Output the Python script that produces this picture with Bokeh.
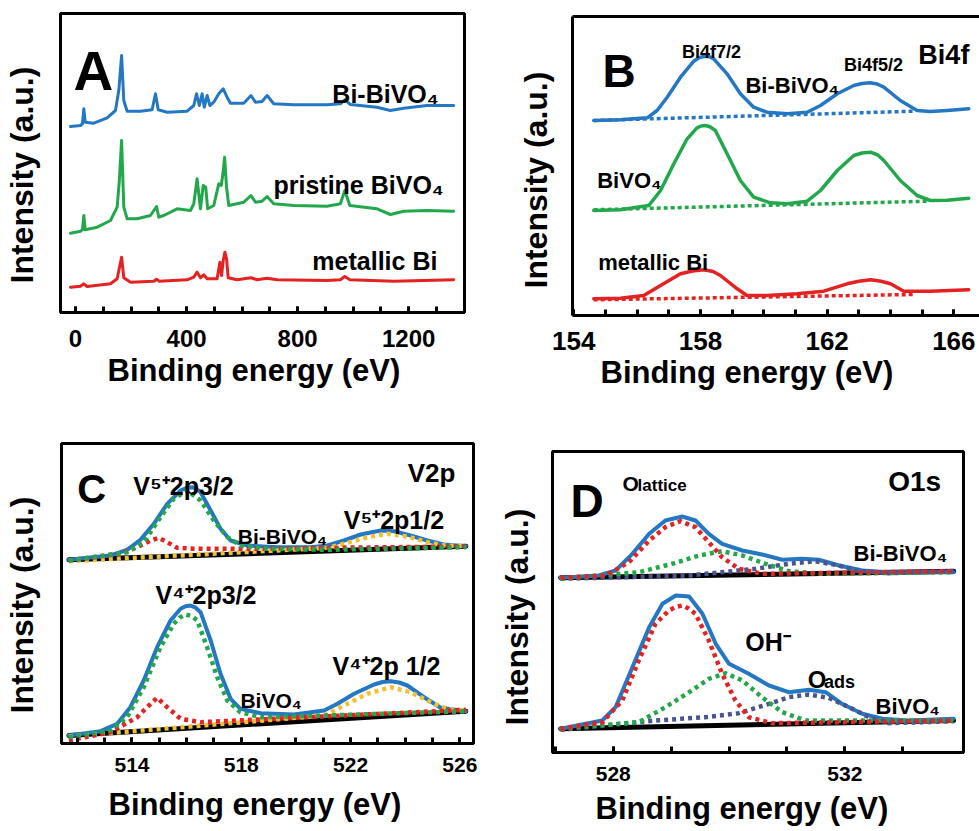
from bokeh.plotting import figure
from bokeh.models import Range1d, FixedTicker, Label, LinearAxis, Title
from bokeh.layouts import column, row
from bokeh.embed import file_html
from bokeh.resources import INLINE

FONT = "Liberation Sans"

# ---------------- Panel A: survey spectra (binding energy eV, intensity a.u.) ----------------
a_x_bi_bivo4 = [-18, 18, 25, 30, 35, 66, 114, 144, 156, 166, 174, 186, 234, 276, 288, 298, 330, 402, 426, 436,
                446, 456, 464, 474, 484, 498, 516, 532, 546, 558, 606, 632, 648, 672, 690, 714, 786, 906, 954, 970,
                990, 1086, 1134, 1182, 1266, 1362]
a_y_bi_bivo4 = [186, 187, 188.7, 203.7, 190.3, 189.3, 194.7, 202, 222, 257, 212, 201.3, 201.3, 202.7, 218.7, 202.7,
                200.3, 201.3, 207, 218.7, 207, 218.7, 205.3, 217, 207, 210.3, 218.7, 223.7, 215.3, 209.3, 209.3, 217,
                210.3, 211, 217, 208.7, 207.7, 207.7, 208.7, 212.7, 208, 205.3, 202, 204.3, 207, 207]

a_x_bivo4 = [-18, 18, 25, 30, 35, 78, 126, 150, 158, 166, 174, 186, 222, 270, 292, 300, 318, 366, 414, 426,
             438, 450, 460, 469, 476, 498, 516, 525, 531, 537, 544, 552, 606, 632, 648, 672, 690, 714, 786, 906,
             954, 970, 988, 1086, 1134, 1182, 1266, 1362]
a_y_bivo4 = [79.3, 81.3, 82.7, 97, 82.7, 85.3, 92, 105.3, 132, 172, 105.3, 93.7, 93.7, 97, 106, 95.3, 97, 103.7,
             102, 108.7, 133.7, 103.7, 127, 125.3, 103.7, 107, 128.7, 127, 138.7, 155.3, 125.3, 107, 110.3, 117,
             110.3, 111.3, 116, 108.7, 107, 106.3, 108.7, 122, 107, 103.7, 98, 101.3, 102, 101.3]

a_x_bi = [-18, 18, 30, 42, 126, 150, 166, 174, 198, 282, 292, 301, 402, 426, 438, 450, 462, 474, 510, 520,
          526, 532, 538, 544, 550, 582, 632, 654, 690, 726, 906, 954, 970, 988, 1146, 1362]
a_y_bi = [25.3, 26.3, 28.7, 26, 28.7, 33.7, 55.3, 34.7, 30.3, 31.3, 33.3, 31.3, 32.7, 35.3, 40.3, 34.7, 37.7,
          33.7, 33.7, 50.3, 37, 52, 60.3, 53.7, 34.7, 32.7, 34.7, 32.7, 34.3, 32.7, 32, 32.7, 36, 32.7, 31.3, 32.7]

a_ticks = [0, 400, 800, 1200]
a_minor = [100 * i for i in range(14)]

# ---------------- Panel B: Bi4f ----------------
b_x_blue = [154.63, 155.47, 156.32, 156.63, 156.95, 157.37, 157.79, 157.95, 158.13, 158.28, 158.42, 158.84, 159.26,
            159.68, 160.1, 160.74, 161.37, 161.79, 162.32, 162.84, 163.1, 163.35, 163.58, 163.79, 164.31, 164.84,
            165.26, 165.79, 166.47]
b_y_blue = [195, 195.7, 197.7, 205, 218.3, 238.3, 254.3, 257.8, 259.3, 258.8, 256.7, 241.7, 221.7, 208.3, 203.3,
            201.7, 203.3, 210, 221.7, 230, 232, 232.7, 231.5, 228.3, 215, 205, 204, 205, 206.7]
b_base_x_blue = [154.63, 164.74]
b_base_y_blue = [195, 204.3]

b_x_green = [154.63, 155.47, 156.37, 156.74, 157.16, 157.58, 157.89, 158.02, 158.16, 158.3, 158.47, 158.84, 159.26,
             159.68, 160.21, 160.74, 161.37, 161.79, 162.32, 162.84, 163.1, 163.37, 163.6, 163.79, 164.31, 164.84,
             165.26, 165.79, 166.47]
b_y_green = [105, 105.7, 110, 125, 151.7, 176.7, 187.7, 189.5, 190, 188.7, 185, 161.7, 135, 118.3, 112.7, 111.7,
             114.3, 125, 145, 160, 162.5, 163.3, 160.5, 155, 135, 120, 115, 115.3, 117.3]
b_base_x_green = [154.63, 165.16]
b_base_y_green = [105.7, 114.3]

b_x_red = [154.63, 155.47, 156.21, 156.74, 157.37, 157.75, 158.1, 158.4, 158.63, 159.16, 159.47, 160.1, 161.05,
           161.89, 162.63, 163.0, 163.37, 163.7, 164.0, 164.42, 165.26, 166.47]
b_y_red = [16.7, 17.3, 20, 30, 41.7, 44.5, 45.7, 44, 40, 26.7, 20, 20, 21.7, 24.3, 31.7, 34.3, 35.7, 34.3, 31.7,
           24.3, 24.3, 25.7]
b_base_x_red = [154.63, 164.74]
b_base_y_red = [15.7, 21]

b_ticks = [154, 158, 162, 166]
b_minor = list(range(154, 167))

# ---------------- Panel C: V2p ----------------
c_top_base_x = [511.69, 526.22]
c_top_base_y = [183.7, 197.3]
c_top_blue_x = [511.69, 513.21, 513.82, 514.31, 514.80, 515.29, 515.78, 516.0, 516.2, 516.36, 516.51, 516.88, 517.24,
                517.61, 518.22, 519.32, 520.54, 521.15, 521.76, 522.37, 523.1, 523.59, 524.2, 524.81, 525.42, 526.22]
c_top_blue_y = [183.7, 188, 193.7, 203.7, 219.7, 239.7, 253, 255.7, 256.3, 254.5, 251.3, 233, 214.7, 203, 198,
                196.3, 196.3, 198, 203, 209, 213, 212.3, 208, 203, 199, 197.3]
c_top_green_x = [511.69, 513.82, 514.43, 515.04, 515.53, 516.02, 516.51, 517.0, 517.49, 517.97, 518.95, 521.15,
                 526.22]
c_top_green_y = [183, 191.3, 201.3, 226.3, 244.7, 253, 243, 223, 206.3, 198, 194.7, 193.7, 196.3]
c_top_red_x = [511.69, 513.58, 514.19, 514.68, 514.98, 515.29, 515.65, 516.27, 518.71, 521.15, 526.22]
c_top_red_y = [183, 189.7, 196.3, 203, 205.7, 201.3, 195.7, 194.7, 194.7, 195.7, 197]
c_top_yellow_x = [511.69, 521.15, 521.76, 522.61, 523.35, 524.08, 524.81, 525.42, 526.22]
c_top_yellow_y = [182.3, 195.7, 199.7, 206.3, 209.7, 207, 201.3, 198, 197.3]

c_bot_base_x = [511.69, 526.22]
c_bot_base_y = [8, 32.3]
c_bot_blue_x = [511.69, 512.85, 513.46, 513.94, 514.43, 514.92, 515.41, 515.78, 515.96, 516.14, 516.33, 516.51,
                516.88, 517.24, 517.61, 517.97, 518.71, 519.93, 521.03, 521.52, 522.13, 522.86, 523.17, 523.47,
                523.78, 524.08, 524.69, 525.3, 526.22]
c_bot_blue_y = [8, 12.3, 19.7, 36.3, 63, 96.3, 123, 134.7, 137.2, 138, 135.8, 131.3, 103, 69.7, 44.7, 34.7, 30.3,
                29, 33, 39.7, 49.7, 59, 61.5, 62.3, 61, 58, 46.3, 35.7, 32.3]
c_bot_green_x = [511.69, 513.21, 513.82, 514.43, 515.04, 515.53, 515.75, 515.96, 516.18, 516.39, 516.75, 517.12,
                 517.49, 517.97, 518.71, 521.15, 526.22]
c_bot_green_y = [6.3, 13, 26.3, 56.3, 96.3, 119.7, 126, 129, 127.5, 123, 96.3, 66.3, 43, 31.3, 26.3, 28, 32.3]
c_bot_red_x = [511.69, 513.21, 514.19, 514.68, 514.92, 515.29, 515.78, 516.51, 519.93, 526.22]
c_bot_red_y = [3, 11.3, 26.3, 39.7, 45.7, 36.3, 24.7, 21.3, 25.7, 33.7]
c_bot_yellow_x = [511.69, 521.03, 521.76, 522.61, 523.47, 524.2, 524.93, 525.54, 526.22]
c_bot_yellow_y = [7, 28, 38, 49.7, 56.3, 51.3, 41.3, 34.7, 33]

c_ticks = [514, 518, 522, 526]
c_minor = list(range(512, 527))

# ---------------- Panel D: O1s ----------------
d_top_base_x = [527.09, 533.88]
d_top_base_y = [174.7, 181.3]
d_top_blue_x = [527.09, 527.75, 528.04, 528.33, 528.62, 528.90, 529.19, 529.42, 529.65, 529.88, 530.23, 530.57,
                530.92, 531.26, 531.55, 531.9, 532.30, 532.76, 533.88]
d_top_blue_y = [174.7, 177, 182, 198.7, 218.7, 232, 236, 232, 218.7, 208.7, 202, 198, 192.7, 193.7, 192.7, 187,
                182, 180.3, 180.3]
d_top_red_x = [527.09, 527.87, 528.27, 528.62, 528.90, 529.16, 529.42, 529.65, 529.88, 530.17, 530.57, 533.88]
d_top_red_y = [174.7, 177, 190.3, 212, 225.3, 231.3, 225.3, 210.3, 195.3, 183.7, 178.7, 181.3]
d_top_green_x = [527.09, 528.44, 529.02, 529.48, 529.88, 530.23, 530.63, 531.03, 531.61, 533.88]
d_top_green_y = [173.7, 180.3, 188.7, 197, 201.3, 197, 188.7, 181.3, 178.7, 180.3]
d_top_navy_x = [527.09, 529.31, 530.46, 531.03, 531.49, 531.9, 532.19, 532.76, 533.88]
d_top_navy_y = [173.7, 177, 183.7, 188.7, 191.3, 187, 182, 179.3, 181.3]

d_bot_base_x = [527.09, 533.88]
d_bot_base_y = [23.7, 32]
d_bot_blue_x = [527.09, 527.81, 528.04, 528.33, 528.62, 528.85, 529.08, 529.31, 529.54, 529.77, 530.0, 530.34,
                530.69, 531.03, 531.38, 531.67, 531.95, 532.30, 532.65, 533.11, 533.88]
d_bot_blue_y = [23.7, 32, 45.3, 85.3, 125.3, 148.7, 157, 156, 138.7, 108.7, 88.7, 78.7, 67, 60.3, 62.7, 60.3, 48.7,
                38.7, 33.7, 32, 33.7]
d_bot_red_x = [527.09, 527.81, 528.155, 528.44, 528.73, 528.96, 529.08, 529.19, 529.3, 529.42, 529.65, 529.88,
               530.11, 530.34, 530.75, 533.88]
d_bot_red_y = [23.7, 30.3, 52, 92, 128.7, 142, 145.5, 147, 144, 138.7, 112, 78.7, 52, 35.3, 29.3, 32]
d_bot_green_x = [527.09, 528.44, 528.90, 529.31, 529.65, 529.94, 530.23, 530.57, 530.92, 531.32, 533.88]
d_bot_green_y = [23.7, 30.3, 45.3, 60.3, 73.7, 79.3, 72, 55.3, 40.3, 32, 32]
d_bot_navy_x = [527.09, 528.73, 529.59, 530.17, 530.69, 531.03, 531.38, 531.72, 532.07, 532.42, 532.76, 533.88]
d_bot_navy_y = [22.7, 32, 35.3, 39.3, 48.7, 55.3, 58, 54.7, 45.3, 35.3, 29.3, 31.3]

d_ticks = [528, 532]
d_minor = [527, 528, 529, 530, 531, 532, 533]

# ---------------- styles ----------------
BLUE = "#2477c2"
GREEN = "#22a84a"
RED = "#e42222"
YELLOW = "#f2c12e"
NAVY = "#4a5590"
BLACK = "#000000"


def line_only_axis():
    return LinearAxis(ticker=FixedTicker(ticks=[]), major_tick_in=0, major_tick_out=0,
                      minor_tick_in=0, minor_tick_out=0, major_label_standoff=0,
                      axis_line_width=3, axis_line_color=BLACK)


def base_fig(w, h, xr, yr, left, right, top, bottom, major, minor, tick_size, standoff,
             xl_offset, xl_standoff, yl_offset, yl_gap, outline=True):
    p = figure(width=w, height=h, x_range=Range1d(*xr), y_range=Range1d(*yr),
               output_backend="svg", toolbar_location=None, title=None,
               y_axis_location=None,
               min_border_left=left, min_border_right=right,
               min_border_top=top, min_border_bottom=bottom)
    p.title = None
    for g in p.xgrid + p.ygrid:
        g.visible = False
    p.background_fill_color = "white"
    p.border_fill_color = "white"
    ax = p.xaxis[0]
    ax.ticker = FixedTicker(ticks=major, minor_ticks=minor)
    ax.major_tick_in = 6
    ax.major_tick_out = 0
    ax.minor_tick_in = 6
    ax.minor_tick_out = 0
    ax.major_tick_line_width = 3
    ax.minor_tick_line_width = 3
    ax.major_tick_line_color = BLACK
    ax.minor_tick_line_color = BLACK
    ax.axis_line_width = 3
    ax.axis_line_color = BLACK
    ax.major_label_text_font = FONT
    ax.major_label_text_font_style = "bold"
    ax.major_label_text_font_size = f"{tick_size}px"
    ax.major_label_text_color = BLACK
    ax.major_label_standoff = standoff
    if outline:
        p.outline_line_color = BLACK
        p.outline_line_width = 3
        p.outline_line_alpha = 1.0
    else:
        p.outline_line_color = None
        p.add_layout(line_only_axis(), "left")
        p.add_layout(line_only_axis(), "above")
    p.add_layout(Title(text="Binding energy (eV)", text_font=FONT, text_font_size="31px",
                       text_font_style="bold", align="left", offset=xl_offset,
                       standoff=xl_standoff, text_color=BLACK), "below")
    # gap between frame and the vertical axis title
    p.add_layout(Title(text=" ", text_font=FONT, text_font_size="1px", standoff=yl_gap,
                       text_color=BLACK), "left")
    p.add_layout(Title(text="Intensity (a.u.)", text_font=FONT, text_font_size="32px",
                       text_font_style="bold", align="left", offset=yl_offset, vertical_align="top",
                       standoff=0, text_color=BLACK), "left")
    return p


def lab(p, x, y, text, size, align="left", baseline="alphabetic"):
    p.add_layout(Label(x=x, y=y, text=text, text_font=FONT, text_font_size=f"{size}px",
                       text_font_style="bold", text_align=align, text_baseline=baseline,
                       text_color=BLACK))


def solid(p, x, y, color, width):
    p.line(x, y, line_color=color, line_width=width, line_join="round", line_cap="round")


def dotted(p, x, y, color, width, dash="4 4"):
    p.line(x, y, line_color=color, line_width=width, line_dash=dash, line_join="round", line_cap="butt")


# ---------------- Panel A ----------------
pA = base_fig(490, 410, (-54, 1401), (0, 299), 60, 26, 13, 98, a_ticks, a_minor, 24, 17,
              47, 2, 29, 16)
solid(pA, a_x_bi_bivo4, a_y_bi_bivo4, BLUE, 3)
solid(pA, a_x_bivo4, a_y_bivo4, GREEN, 3)
solid(pA, a_x_bi, a_y_bi, RED, 3)
lab(pA, -7, 242, "A", 55)
lab(pA, 925, 218.7, "Bi-BiVO\u2084", 25)
lab(pA, 713, 128, "pristine BiVO\u2084", 25)
lab(pA, 853, 52, "metallic Bi", 25)

# ---------------- Panel B ----------------
pB = base_fig(489, 410, (153.96, 166.81), (0, 299), 82, 0, 16, 95, b_ticks, b_minor, 26, 16,
              28, 0, 27, 14, outline=False)
dotted(pB, b_base_x_blue, b_base_y_blue, BLUE, 3.5, "4 3")
dotted(pB, b_base_x_green, b_base_y_green, GREEN, 3.5, "4 3")
dotted(pB, b_base_x_red, b_base_y_red, RED, 3.5, "4 3")
solid(pB, b_x_blue, b_y_blue, BLUE, 3.5)
solid(pB, b_x_green, b_y_green, GREEN, 3.5)
solid(pB, b_x_red, b_y_red, RED, 3.5)
lab(pB, 154.906, 245, "B", 46)
lab(pB, 158.35, 263.3, "Bi4f7/2", 18, align="center")
lab(pB, 163.46, 251, "Bi4f5/2", 18, align="center")
lab(pB, 164.88, 261, "Bi4f", 27)
lab(pB, 159.42, 230, "Bi-BiVO\u2084", 22)
lab(pB, 154.74, 135, "BiVO\u2084", 22)
lab(pB, 154.77, 53.3, "metallic Bi", 22)

# ---------------- Panel C ----------------
pC = base_fig(490, 421, (511.42, 526.5), (0, 300), 61, 17, 33, 88, c_ticks, c_minor, 21, 14,
              47, 20, 30, 17)
solid(pC, c_top_base_x, c_top_base_y, BLACK, 5)
solid(pC, c_bot_base_x, c_bot_base_y, BLACK, 5)
solid(pC, c_top_blue_x, c_top_blue_y, BLUE, 4)
solid(pC, c_bot_blue_x, c_bot_blue_y, BLUE, 4)
dotted(pC, c_top_yellow_x, c_top_yellow_y, YELLOW, 4.5)
dotted(pC, c_bot_yellow_x, c_bot_yellow_y, YELLOW, 4.5)
dotted(pC, c_top_red_x, c_top_red_y, RED, 4.5)
dotted(pC, c_bot_red_x, c_bot_red_y, RED, 4.5)
dotted(pC, c_top_green_x, c_top_green_y, GREEN, 4.5)
dotted(pC, c_bot_green_x, c_bot_green_y, GREEN, 4.5)
lab(pC, 512.0, 255, "C", 40)
lab(pC, 514.05, 258, "V\u2075\u207a2p3/2", 25)
lab(pC, 524.09, 271, "V2p", 26)
lab(pC, 517.87, 207.3, "Bi-BiVO\u2084", 21)
lab(pC, 521.75, 223.7, "V\u2075\u207a2p1/2", 25)
lab(pC, 514.86, 148.7, "V\u2074\u207a2p3/2", 25)
lab(pC, 521.34, 78, "V\u2074\u207a2p 1/2", 25)
lab(pC, 517.97, 43, "BiVO\u2084", 21)

# ---------------- Panel D ----------------
pD = base_fig(489, 421, (526.95, 534.05), (0, 301), 62, 16, 41, 79, d_ticks, d_minor, 21, 14,
              43, 11, 27, 13)
solid(pD, d_top_base_x, d_top_base_y, BLACK, 5)
solid(pD, d_bot_base_x, d_bot_base_y, BLACK, 5)
solid(pD, d_top_blue_x, d_top_blue_y, BLUE, 4)
solid(pD, d_bot_blue_x, d_bot_blue_y, BLUE, 4)
dotted(pD, d_top_navy_x, d_top_navy_y, NAVY, 4.5)
dotted(pD, d_bot_navy_x, d_bot_navy_y, NAVY, 4.5)
dotted(pD, d_top_green_x, d_top_green_y, GREEN, 4.5)
dotted(pD, d_bot_green_x, d_bot_green_y, GREEN, 4.5)
dotted(pD, d_top_red_x, d_top_red_y, RED, 4.5)
dotted(pD, d_bot_red_x, d_bot_red_y, RED, 4.5)
lab(pD, 527.26, 252, "D", 46)
lab(pD, 528.16, 269, "O", 21)
lab(pD, 528.42, 267, "lattice", 17)
lab(pD, 532.75, 271.3, "O1s", 28)
lab(pD, 532.15, 198.7, "Bi-BiVO\u2084", 22)
lab(pD, 530.28, 110.3, "OH\u207b", 25)
lab(pD, 531.36, 72.7, "O", 24)
lab(pD, 531.64, 71, "ads", 18)
lab(pD, 532.53, 46, "BiVO\u2084", 22)

# each plot sits in its own column so that the row does not align the plot frames
layout = column(row(column(pA), column(pB)), row(column(pC), column(pD)))
open("out.html", "w").write(file_html(layout, INLINE))
